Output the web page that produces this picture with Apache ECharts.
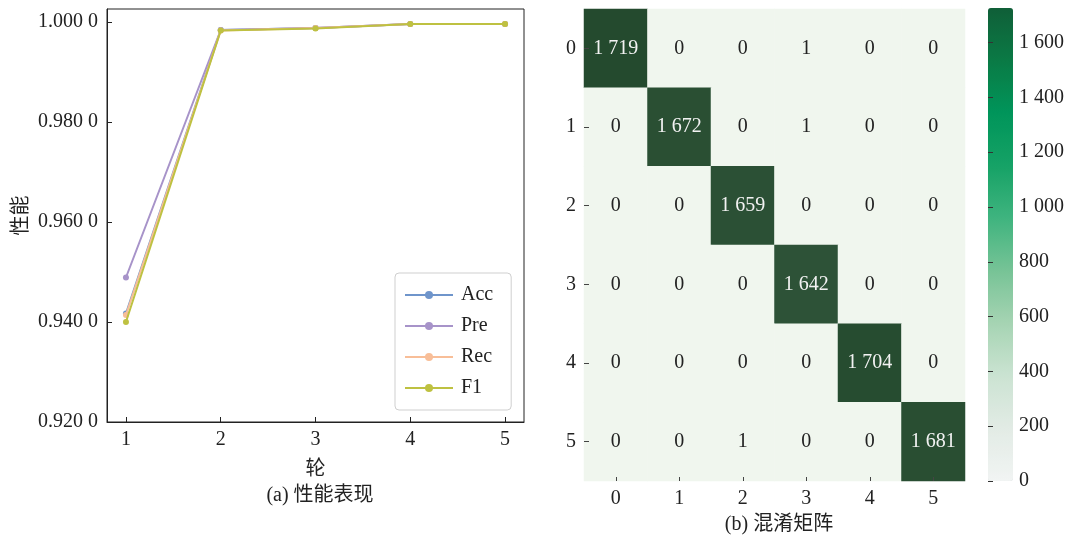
<!DOCTYPE html>
<html>
<head>
<meta charset="utf-8">
<script src="https://cdn.jsdelivr.net/npm/echarts@6/dist/echarts.min.js"></script>
<style>
  html, body { margin: 0; padding: 0; background: #fff; }
  #chart { width: 1072px; height: 537px; }
</style>
</head>
<body>
<div id="chart"></div>
<script>
// Training curves per epoch
const epochs = [1, 2, 3, 4, 5];
const accValues = [0.9417, 0.9984, 0.9988, 0.9996, 0.9996];
const preValues = [0.9489, 0.9984, 0.9988, 0.9996, 0.9996];
const recValues = [0.9414, 0.9983, 0.9988, 0.9996, 0.9996];
const f1Values  = [0.9400, 0.9983, 0.9987, 0.9996, 0.9996];
const seriesNames = ['Acc', 'Pre', 'Rec', 'F1'];
const perfTicks = [0.92, 0.94, 0.96, 0.98, 1.00];

// Confusion matrix (rows: true class, columns: predicted class)
const classLabels = ['0', '1', '2', '3', '4', '5'];
const confusion = [
  [1719, 0, 0, 1, 0, 0],
  [0, 1672, 0, 1, 0, 0],
  [0, 0, 1659, 0, 0, 0],
  [0, 0, 0, 1642, 0, 0],
  [0, 0, 0, 0, 1704, 0],
  [0, 0, 1, 0, 0, 1681]
];
const colorbarTicks = [0, 200, 400, 600, 800, 1000, 1200, 1400, 1600];

const FONT = "'Liberation Serif', 'Times New Roman', 'Noto Sans CJK SC', serif";
const TEXT = '#222';
const lineColors = ['#6f95cb', '#a793c9', '#f8be98', '#bec141'];

function groupThousands(v) {
  return String(v).replace(/\B(?=(\d{3})+(?!\d))/g, ' ');
}
function perfLabel(v) {
  const s = v.toFixed(4);
  return s.slice(0, -1) + ' ' + s.slice(-1);
}

let cmMax = 0;
confusion.forEach(row => row.forEach(v => { cmMax = Math.max(cmMax, v); }));
const heatData = [];
confusion.forEach((row, r) => row.forEach((v, c) => {
  heatData.push({
    value: [c, r, v],
    label: { color: v > cmMax / 2 ? '#f2f2f2' : TEXT }
  });
}));

const lineSeries = [accValues, preValues, recValues, f1Values].map((vals, i) => ({
  name: seriesNames[i],
  type: 'line',
  xAxisIndex: 0,
  yAxisIndex: 0,
  data: epochs.map((e, k) => [e, vals[k]]),
  symbol: 'circle',
  symbolSize: 6,
  color: lineColors[i],
  lineStyle: { width: 2, color: lineColors[i] },
  itemStyle: { color: lineColors[i] },
  z: 3 + i
}));

const chart = echarts.init(document.getElementById('chart'), null, { renderer: 'canvas' });

chart.setOption({
  backgroundColor: '#fff',
  animation: false,
  textStyle: { fontFamily: FONT, color: TEXT },
  title: [
    { text: '(a) 性能表现', left: 315, top: 481, textAlign: 'center',
      textStyle: { fontFamily: FONT, fontSize: 20, fontWeight: 'normal', color: TEXT } },
    { text: '(b) 混淆矩阵', left: 774, top: 510, textAlign: 'center',
      textStyle: { fontFamily: FONT, fontSize: 20, fontWeight: 'normal', color: TEXT } }
  ],
  legend: {
    data: seriesNames,
    orient: 'vertical',
    left: 395,
    top: 273,
    padding: [12, 18, 12, 9],
    itemGap: 11,
    itemWidth: 48,
    itemHeight: 10,
    lineStyle: { width: 2 },
    borderColor: '#cfcfcf',
    borderWidth: 1,
    borderRadius: 4,
    backgroundColor: '#fff',
    textStyle: { fontFamily: FONT, fontSize: 20, color: TEXT, lineHeight: 20, padding: [0, 0, 0, 3] }
  },
  grid: [
    { left: 107, top: 9, width: 417, height: 413, show: true, borderColor: '#222', borderWidth: 1, containLabel: false },
    { left: 584, top: 9, width: 381, height: 472, containLabel: false },
    { left: 988, top: 8, width: 25, height: 473, containLabel: false }
  ],
  xAxis: [
    {
      gridIndex: 0, type: 'value', min: 0.8, max: 5.2,
      name: '轮', nameLocation: 'middle', nameGap: 38,
      nameTextStyle: { fontFamily: FONT, fontSize: 20, color: TEXT },
      axisLine: { lineStyle: { color: '#222' } },
      axisTick: { inside: true, length: 5, customValues: epochs, lineStyle: { color: '#222' } },
      axisLabel: { customValues: epochs, fontSize: 20, color: TEXT, margin: 8, fontFamily: FONT },
      splitLine: { show: false }
    },
    {
      gridIndex: 1, type: 'category', data: classLabels, position: 'bottom',
      axisLine: { show: false },
      axisTick: { show: true, alignWithLabel: true, inside: true, length: 4, lineStyle: { color: '#444' } },
      axisLabel: { fontSize: 20, color: TEXT, margin: 8, fontFamily: FONT },
      splitLine: { show: false }, z: 10
    },
    { gridIndex: 2, type: 'value', show: false, min: 0, max: 1 }
  ],
  yAxis: [
    {
      gridIndex: 0, type: 'value', min: 0.92, max: 1.0026,
      name: '性能', nameLocation: 'middle', nameGap: 75,
      nameTextStyle: { fontFamily: FONT, fontSize: 20, color: TEXT },
      axisLine: { show: true, lineStyle: { color: '#222' } },
      axisTick: { show: true, inside: true, length: 5, customValues: perfTicks, lineStyle: { color: '#222' } },
      axisLabel: { customValues: perfTicks, fontSize: 20, color: TEXT, margin: 9, fontFamily: FONT, formatter: perfLabel },
      splitLine: { show: false }
    },
    {
      gridIndex: 1, type: 'category', data: classLabels, inverse: true,
      axisLine: { show: false },
      axisTick: { show: true, alignWithLabel: true, inside: true, length: 5, lineStyle: { color: '#444' } },
      axisLabel: { fontSize: 20, color: TEXT, margin: 8, fontFamily: FONT },
      splitLine: { show: false }, z: 10
    },
    {
      gridIndex: 2, type: 'value', position: 'right', min: 0, max: 1726,
      axisLine: { show: false },
      axisTick: { show: true, inside: false, length: 5, customValues: colorbarTicks, lineStyle: { color: '#333', width: 1 } },
      axisLabel: { customValues: colorbarTicks, fontSize: 20, color: TEXT, margin: 6, fontFamily: FONT, formatter: v => groupThousands(v) },
      splitLine: { show: false }, z: 10
    }
  ],
  visualMap: [
    {
      // cell colouring of the matrix
      type: 'continuous', show: false, seriesIndex: 4,
      min: 0, max: cmMax, dimension: 2,
      inRange: { color: ['#f0f6ee', '#244a2e'] }
    },
    {
      // colour bar beside the matrix
      type: 'continuous', show: true, seriesIndex: 5,
      min: 0, max: 1726, calculable: false, realtime: false,
      left: 988, top: 8, itemWidth: 25, itemHeight: 473, padding: 0,
      text: null, showLabel: false, z: 2,
      inRange: { color: ['#f1f4f3', '#e2ebe5', '#cbe3d2', '#a6d4b3', '#77c396', '#3fb47f', '#16a266', '#00955a', '#0a7a45', '#105f38'] }
    }
  ],
  series: lineSeries.concat([
    {
      name: 'confusion',
      type: 'heatmap',
      xAxisIndex: 1,
      yAxisIndex: 1,
      data: heatData,
      label: {
        show: true,
        fontSize: 20,
        fontFamily: FONT,
        formatter: p => groupThousands(p.value[2])
      },
      itemStyle: { borderWidth: 0 },
      emphasis: { disabled: true }
    },
    {
      name: 'colorbar',
      type: 'line',
      xAxisIndex: 2,
      yAxisIndex: 2,
      data: [],
      silent: true
    }
  ])
});
</script>
</body>
</html>
